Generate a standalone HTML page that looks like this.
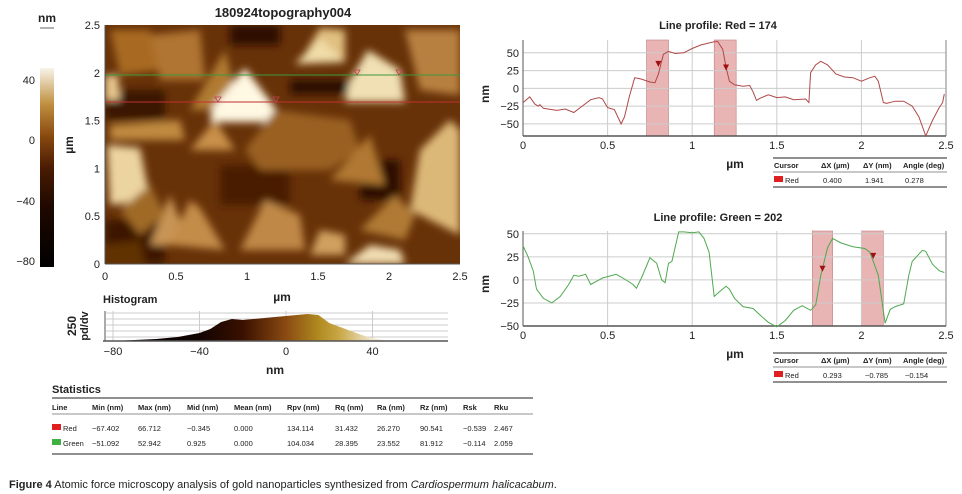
<!DOCTYPE html>
<html><head><meta charset="utf-8"><style>
html,body{margin:0;padding:0;background:#fff;}
body{width:962px;height:494px;overflow:hidden;position:relative;font-family:"Liberation Sans",Arial,sans-serif;}
svg{position:absolute;left:0;top:0;}
text{font-family:"Liberation Sans",Arial,sans-serif;}
</style></head><body>
<svg id="s" width="962" height="494" viewBox="0 0 962 494">
<defs>
<linearGradient id="cbar" x1="0" y1="1" x2="0" y2="0">
<stop offset="0" stop-color="#000"/><stop offset="0.3" stop-color="#1e0800"/><stop offset="0.5" stop-color="#4a1c02"/><stop offset="0.66" stop-color="#8a4a10"/><stop offset="0.82" stop-color="#c09040"/><stop offset="1" stop-color="#f8f4ea"/>
</linearGradient>
<linearGradient id="hgrad" x1="113" y1="0" x2="459" y2="0" gradientUnits="userSpaceOnUse">
<stop offset="0" stop-color="#000"/><stop offset="0.25" stop-color="#120400"/><stop offset="0.375" stop-color="#3a1000"/><stop offset="0.5" stop-color="#8a4a12"/><stop offset="0.594" stop-color="#b08a20"/><stop offset="0.656" stop-color="#caa848"/><stop offset="0.75" stop-color="#f0e8d0"/><stop offset="1" stop-color="#fbf8ef"/>
</linearGradient>
<clipPath id="imgclip"><rect x="105" y="25" width="355" height="239"/></clipPath>
<filter id="blur" x="-10%" y="-10%" width="120%" height="120%"><feGaussianBlur stdDeviation="4"/></filter>
</defs>

<!-- colorbar -->
<text x="47" y="22" font-size="12" font-weight="bold" text-anchor="middle" fill="#222">nm</text>
<line x1="40" y1="28" x2="54" y2="28" stroke="#999" stroke-width="1.5"/>
<rect x="40" y="68" width="14" height="199" fill="url(#cbar)"/>
<g font-size="11" fill="#222" text-anchor="end">
<text x="35" y="84">40</text><text x="35" y="144">0</text><text x="35" y="205">−40</text><text x="35" y="265">−80</text>
</g>

<!-- image -->
<text x="283" y="17" font-size="13" font-weight="bold" text-anchor="middle" fill="#222">180924topography004</text>
<g clip-path="url(#imgclip)">
<rect x="105" y="25" width="355" height="239" fill="#683208"/>
<g filter="url(#blur)">
<rect x="290" y="80" width="60" height="14" fill="#2a0e00"/>
<rect x="105" y="90" width="60" height="30" fill="#3a1604"/>
<rect x="360" y="160" width="40" height="40" fill="#2e1002"/>
<rect x="220" y="165" width="70" height="40" fill="#4a1e04"/>
<rect x="105" y="220" width="60" height="44" fill="#3e1804"/>
<rect x="230" y="25" width="50" height="20" fill="#2e1002"/>
<polygon points="110,30 150,30 160,70 120,75" fill="#a86a24"/>
<polygon points="150,35 200,30 205,80 160,80" fill="#b07430"/>
<polygon points="300,62 320,28 345,30 345,62" fill="#e0c080"/>
<polygon points="295,64 320,38 345,62" fill="#f0dca8"/>
<polygon points="190,110 225,50 240,110" fill="#b07a30"/>
<polygon points="210,122 212,108 245,68 275,108 275,122" fill="#fff8e2"/>
<polygon points="345,102 350,80 368,50 400,70 405,102" fill="#f0e0b4"/>
<polygon points="405,30 460,30 460,95 420,90" fill="#b88040"/>
<polygon points="105,75 118,75 120,100 105,100" fill="#e8c890"/>
<polygon points="110,125 180,120 185,140 110,140" fill="#c08a40"/>
<polygon points="190,150 215,120 235,150" fill="#c8904a"/>
<polygon points="245,150 275,110 350,120 360,150 330,170 260,170" fill="#9a6020"/>
<polygon points="107,145 140,148 150,200 110,205" fill="#ecd4a0"/>
<polygon points="330,180 370,135 385,185" fill="#b07830"/>
<polygon points="410,210 420,150 450,120 460,130 460,235" fill="#dcb878"/>
<polygon points="150,245 170,195 190,245" fill="#c89454"/>
<polygon points="170,245 190,200 200,208 225,250" fill="#c48c48"/>
<polygon points="240,250 265,200 300,215 305,250" fill="#c08846"/>
<polygon points="310,255 320,230 345,235 345,255" fill="#d0a060"/>
<polygon points="345,264 370,245 400,250 405,264" fill="#f0dcb0"/>
<polygon points="360,230 395,195 415,215 405,240" fill="#b07a36"/>
<polygon points="120,210 150,185 165,215 140,235" fill="#a06a28"/>
<polygon points="105,245 140,240 145,264 105,264" fill="#603006"/>
</g>
<line id="greenLine" x1="105" y1="75" x2="460" y2="75" stroke="#3c9a3c" stroke-width="1"/>
<line x1="105" y1="102" x2="460" y2="102" stroke="#c03030" stroke-width="1"/>
<g fill="none" stroke="#c04050" stroke-width="0.8">
<path d="M215,97 L221,97 L218,102 Z"/><path d="M273,97 L279,97 L276,102 Z"/>
<path d="M354,70 L360,70 L357,75 Z"/><path d="M396,70 L402,70 L399,75 Z"/>
</g>
</g>
<g id="imgAxes" font-size="11" fill="#222"></g>
<text transform="translate(73,145) rotate(-90)" font-size="12" font-weight="bold" text-anchor="middle" fill="#222">µm</text>
<text x="282" y="301" font-size="12" font-weight="bold" text-anchor="middle" fill="#222">µm</text>

<!-- histogram -->
<text x="103" y="303" font-size="11" font-weight="bold" fill="#222">Histogram</text>
<text transform="translate(76,326) rotate(-90)" font-size="12" font-weight="bold" text-anchor="middle" fill="#222">250</text>
<text transform="translate(88,326) rotate(-90)" font-size="11" font-weight="bold" text-anchor="middle" fill="#222">pd/dv</text>
<g id="hist"></g>
<text x="275" y="374" font-size="12" font-weight="bold" text-anchor="middle" fill="#222">nm</text>

<!-- statistics -->
<text x="52" y="393" font-size="11" font-weight="bold" fill="#222">Statistics</text>
<g id="stats" font-size="7.5" fill="#222"></g>

<!-- profiles -->
<text x="718" y="29" font-size="11" font-weight="bold" text-anchor="middle" fill="#222">Line profile: Red = 174</text>
<text x="718" y="221" font-size="11" font-weight="bold" text-anchor="middle" fill="#222">Line profile: Green = 202</text>
<g id="redPlot"></g>
<g id="greenPlot"></g>
<text x="480" y="93" font-size="12" font-weight="bold" transform="rotate(-90,485,89)" fill="#222" text-anchor="middle">nm</text>
<text x="480" y="283" font-size="12" font-weight="bold" transform="rotate(-90,485,279)" fill="#222" text-anchor="middle">nm</text>
<g id="cur" font-size="7.5" fill="#222"></g>

<text x="9" y="488" font-size="11" fill="#222"><tspan font-weight="bold">Figure 4</tspan> Atomic force microscopy analysis of gold nanoparticles synthesized from <tspan font-style="italic">Cardiospermum halicacabum</tspan>.</text>
</svg>
<script>
const imgTicks=[0,0.5,1,1.5,2,2.5];
const imgTickLabels=["0","0.5","1","1.5","2","2.5"];
const histNm=[-75,-70,-65,-60,-55,-50,-45,-40,-35,-30,-25,-20,-15,-10,-5,0,5,10,15,20,25,30,35,40,45,50];
const histCounts=[0.5,1,1.5,2,3,4,6,8,12,19,22,21,22,23,24,25,26,27,26,18,14,10,6,3,1,0];
const histTicks=[-80,-40,0,40];
const redX=[0,0.04,0.07,0.09,0.1,0.12,0.2,0.25,0.3,0.35,0.4,0.45,0.47,0.5,0.54,0.58,0.6,0.63,0.66,0.7,0.75,0.78,0.8,0.83,0.86,0.9,0.95,1.0,1.05,1.12,1.15,1.18,1.2,1.22,1.25,1.3,1.34,1.36,1.38,1.4,1.45,1.5,1.55,1.6,1.67,1.69,1.7,1.73,1.76,1.8,1.85,1.9,1.95,2.0,2.05,2.08,2.1,2.13,2.15,2.2,2.25,2.3,2.34,2.37,2.38,2.42,2.46,2.48,2.49];
const redY=[-20,-12,-22,-25,-23,-28,-31,-29,-34,-25,-16,-13,-15,-27,-30,-50,-40,-10,15,13,9,8,20,48,52,49,50,56,61,65,66,55,30,10,5,3,4,-5,-17,-14,-9,-13,-12,-16,-15,-20,22,33,38,33,20,16,15,10,15,17,10,-20,-21,-18,-18,-25,-40,-60,-67,-45,-27,-20,-8];
const greenX=[0,0.03,0.06,0.08,0.12,0.17,0.22,0.27,0.3,0.33,0.37,0.4,0.43,0.47,0.55,0.6,0.65,0.67,0.7,0.73,0.75,0.79,0.82,0.84,0.86,0.88,0.92,0.95,1.0,1.04,1.07,1.1,1.13,1.16,1.2,1.22,1.25,1.3,1.36,1.4,1.45,1.5,1.55,1.6,1.65,1.7,1.73,1.76,1.8,1.83,1.88,1.95,2.02,2.05,2.1,2.14,2.17,2.2,2.25,2.28,2.3,2.36,2.38,2.42,2.46,2.49];
const greenY=[37,25,10,-10,-20,-25,-18,-5,5,4,6,-5,-2,2,6,1,-5,-9,2,15,24,18,0,-3,18,20,52,52,51,52,45,30,-18,-13,-7,-10,-20,-29,-31,-38,-46,-51,-44,-33,-28,-33,-27,5,35,45,40,36,34,30,5,-47,-32,-29,-26,5,20,32,31,17,10,8];
const redBands=[[0.73,0.86],[1.13,1.26]];
const greenBands=[[1.71,1.83],[2.0,2.13]];
const redCursors=[[0.8,33],[1.2,28]];
const greenCursors=[[1.77,11],[2.07,25]];
const redYTicks=[50,25,0,-25,-50];
const greenYTicks=[50,25,0,-25,-50];
const xTicks=[0,0.5,1,1.5,2,2.5];
const statCols=["Line","Min (nm)","Max (nm)","Mid (nm)","Mean (nm)","Rpv (nm)","Rq (nm)","Ra (nm)","Rz (nm)","Rsk","Rku"];
const statRed=["Red","−67.402","66.712","−0.345","0.000","134.114","31.432","26.270","90.541","−0.539","2.467"];
const statGreen=["Green","−51.092","52.942","0.925","0.000","104.034","28.395","23.552","81.912","−0.114","2.059"];
const curCols=["Cursor","ΔX (µm)","ΔY (nm)","Angle (deg)"];
const curRed=["Red","0.400","1.941","0.278"];
const curGreen=["Red","0.293","−0.785","−0.154"];

const NS="http://www.w3.org/2000/svg";
function mk(tag,attrs,parent,txt){const e=document.createElementNS(NS,tag);for(const k in attrs)e.setAttribute(k,attrs[k]);if(txt!==undefined)e.textContent=txt;parent.appendChild(e);return e;}

const ia=document.getElementById('imgAxes');
const ix=v=>105+v/2.5*355, iy=v=>264-v/2.5*239;
imgTicks.forEach((t,i)=>{
  let a=mk('text',{x:100,y:iy(t)+4,'text-anchor':'end'},ia,imgTickLabels[i]);
  
  
  let b=mk('text',{x:ix(t),y:280,'text-anchor':'middle'},ia,imgTickLabels[i]);
  
  
});
mk('line',{x1:105,y1:264,x2:460,y2:264,stroke:'#555'},ia);
mk('line',{x1:105,y1:25,x2:105,y2:264,stroke:'#555'},ia);

const hg=document.getElementById('hist');
const hx=v=>286+v/40*86.5, hy=v=>341-v;
[313,319,325,331,337].forEach(y=>mk('line',{x1:106,y1:y,x2:448,y2:y,stroke:'#ccc','stroke-width':1},hg));
histTicks.forEach(t=>mk('line',{x1:hx(t),y1:311,x2:hx(t),y2:341,stroke:'#ccc'},hg));
let hp='M'+hx(histNm[0])+','+hy(0);
histNm.forEach((n,i)=>{hp+=' L'+hx(n)+','+hy(histCounts[i]);});
hp+=' L'+hx(histNm[histNm.length-1])+','+hy(0)+' Z';
const hpath=mk('path',{d:hp,fill:'url(#hgrad)'},hg);


mk('line',{x1:103,y1:341,x2:448,y2:341,stroke:'#555','stroke-width':1.5},hg);
mk('line',{x1:105,y1:311,x2:105,y2:341,stroke:'#555'},hg);
histTicks.forEach(t=>{const e=mk('text',{x:hx(t),y:355,'text-anchor':'middle','font-size':11,fill:'#222'},hg,t<0?'−'+(-t):String(t));
  
  });

const st=document.getElementById('stats');
const scx=[52,92,138,187,234,287,335,377,420,463,494];
mk('line',{x1:52,y1:398,x2:533,y2:398,stroke:'#222'},st);
mk('line',{x1:52,y1:414,x2:533,y2:414,stroke:'#222','stroke-width':0.6},st);
mk('line',{x1:52,y1:454,x2:533,y2:454,stroke:'#222'},st);
statCols.forEach((c,i)=>mk('text',{x:scx[i],y:410,'font-weight':'bold'},st,c));
[[statRed,431,'#e02020'],[statGreen,446,'#40b040']].forEach(([row,y,col])=>{
  mk('rect',{x:52,y:y-7,width:9,height:6,fill:col},st);
  row.forEach((v,i)=>mk('text',{x:i==0?63:scx[i],y:y},st,v));
});

function profile(gid,top,bot,ymin,ymax,xs,ys,color,bands,cursors,yticks){
  const g=document.getElementById(gid);
  const L=523,R=946;
  const px=v=>L+v/2.5*(R-L), py=v=>bot-(v-ymin)/(ymax-ymin)*(bot-top);
  bands.forEach(b=>{const r=mk('rect',{x:px(b[0]),y:top,width:px(b[1])-px(b[0]),height:bot-top,fill:'#e8b4b4',stroke:'#c08080','stroke-width':0.6},g);
    
    });
  yticks.forEach(t=>{mk('line',{x1:L,y1:py(t),x2:R,y2:py(t),stroke:'#ccc'},g);
    const e=mk('text',{x:L-4,y:py(t)+4,'text-anchor':'end','font-size':11,fill:'#222'},g,t<0?'−'+(-t):String(t));
    
    });
  xTicks.forEach(t=>{mk('line',{x1:px(t),y1:top,x2:px(t),y2:bot,stroke:'#ccc'},g);
    const e=mk('text',{x:px(t),y:bot+13,'text-anchor':'middle','font-size':11,fill:'#222'},g,String(t));
    
    });
  mk('line',{x1:R,y1:top,x2:R,y2:bot,stroke:'#aaa','stroke-width':1.5},g);
  mk('line',{x1:L,y1:top,x2:L,y2:bot,stroke:'#555'},g);
  mk('line',{x1:L,y1:bot,x2:R,y2:bot,stroke:'#555','stroke-width':1.5},g);
  let d='';xs.forEach((x,i)=>{d+=(i?' L':'M')+px(x).toFixed(1)+','+py(ys[i]).toFixed(1);});
  const p=mk('path',{d:d,fill:'none',stroke:color,'stroke-width':1},g);
  
  
  cursors.forEach(c=>{const x=px(c[0]),y=py(c[1]);
    const m=mk('path',{d:`M${x-3},${y-4} L${x+3},${y-4} L${x},${y+2} Z`,fill:'#a01010'},g);
    
    });
  mk('text',{x:735,y:bot+32,'text-anchor':'middle','font-size':12,'font-weight':'bold',fill:'#222'},g,'µm');
}
profile('redPlot',40,136,-67,68,redX,redY,'#b04848',redBands,redCursors,redYTicks);
profile('greenPlot',231,326,-50,53,greenX,greenY,'#50a850',greenBands,greenCursors,greenYTicks);

const cu=document.getElementById('cur');
const ccx=[774,821,863,903];
[[158,curRed],[353,curGreen]].forEach(([t,row])=>{
  mk('line',{x1:773,y1:t,x2:947,y2:t,stroke:'#222'},cu);
  mk('line',{x1:773,y1:t+14,x2:947,y2:t+14,stroke:'#222','stroke-width':0.6},cu);
  mk('line',{x1:773,y1:t+29,x2:947,y2:t+29,stroke:'#222'},cu);
  curCols.forEach((c,i)=>mk('text',{x:ccx[i],y:t+10,'font-weight':'bold'},cu,c));
  mk('rect',{x:774,y:t+18,width:9,height:6,fill:'#e02020'},cu);
  row.forEach((v,i)=>mk('text',{x:i==0?785:ccx[i]+2,y:t+25},cu,v));
});
</script>
</body></html>
